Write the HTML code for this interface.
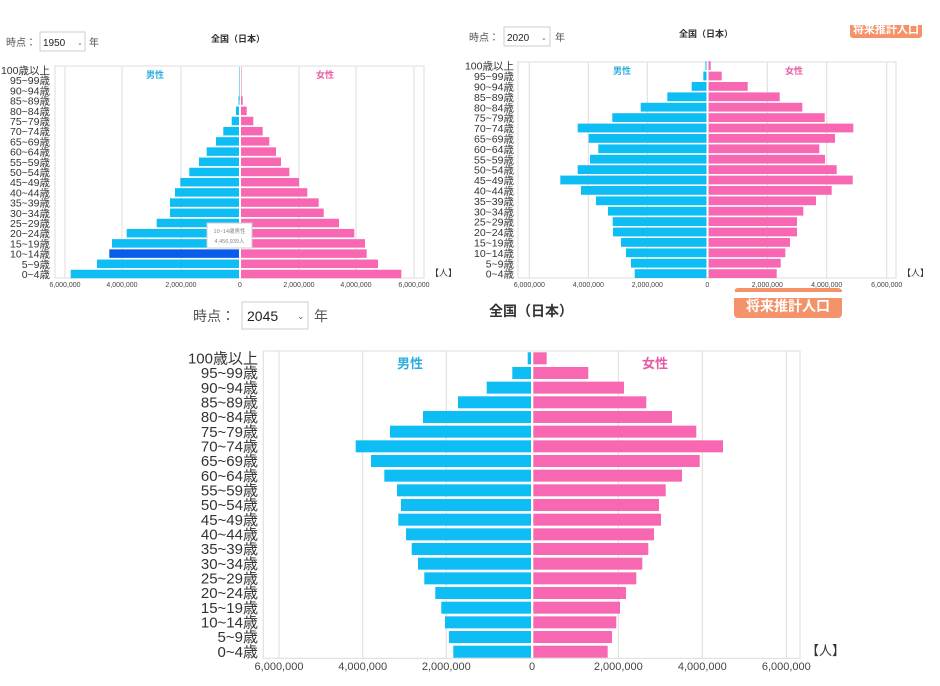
<!DOCTYPE html>
<html><head><meta charset="utf-8"><style>
body{margin:0;background:#fff;width:940px;height:686px;overflow:hidden}
svg{display:block;font-family:"Liberation Sans","Noto Sans CJK JP",sans-serif}
.m{fill:#0dbdf3}.f{fill:#f868b2}.g{stroke:#dcdcdc;stroke-width:1}
.fr{fill:none;stroke:#e2e2e2;stroke-width:1.2}
</style></head><body>
<svg width="940" height="686" viewBox="0 0 940 686">
<!-- Chart 1 -->
<text x="6" y="46" font-size="10" fill="#555">時点：</text>
<rect x="40" y="32" width="45" height="19" fill="#fff" stroke="#ccc"/>
<text x="43" y="46" font-size="10" fill="#222">1950</text><text x="77" y="45" font-size="7" fill="#666">⌄</text>
<text x="89" y="46" font-size="10" fill="#555">年</text>
<text x="238" y="42" font-size="9" font-weight="bold" fill="#333" text-anchor="middle">全国（日本）</text>
<rect x="55" y="66" width="369" height="212" class="fr"/>
<g class="g"><line x1="65" y1="67" x2="65" y2="278"/><line x1="122" y1="67" x2="122" y2="278"/><line x1="181" y1="67" x2="181" y2="278"/><line x1="299" y1="67" x2="299" y2="278"/><line x1="356" y1="67" x2="356" y2="278"/><line x1="414" y1="67" x2="414" y2="278"/></g>
<text x="155" y="78" font-size="9" font-weight="bold" fill="#2aaee0" text-anchor="middle">男性</text>
<text x="325" y="78" font-size="9" font-weight="bold" fill="#e85aa5" text-anchor="middle">女性</text>
<line x1="239.5" y1="67" x2="239.5" y2="100" stroke="#8fd8f5"/><line x1="241.5" y1="67" x2="241.5" y2="100" stroke="#f7b5d6"/>
<g class="m">
<rect x="238.5" y="96.35" width="1" height="8.5"/><rect x="236" y="106.55" width="3" height="8.5"/><rect x="231.7" y="116.75" width="7.3" height="8.5"/><rect x="223.3" y="126.95" width="15.7" height="8.5"/><rect x="216" y="137.15" width="23" height="8.5"/><rect x="206.7" y="147.35" width="32.3" height="8.5"/><rect x="199" y="157.55" width="40" height="8.5"/><rect x="189.3" y="167.75" width="49.7" height="8.5"/><rect x="180.3" y="177.95" width="58.7" height="8.5"/><rect x="175" y="188.15" width="64" height="8.5"/><rect x="170" y="198.35" width="69" height="8.5"/><rect x="170" y="208.55" width="69" height="8.5"/><rect x="156.7" y="218.75" width="82.3" height="8.5"/><rect x="126.7" y="228.95" width="112.3" height="8.5"/><rect x="112" y="239.15" width="127" height="8.5"/><rect x="109.3" y="249.35" width="129.7" height="8.5" style="fill:#0a5de8"/><rect x="97" y="259.55" width="142" height="8.5"/><rect x="70.7" y="269.75" width="168.3" height="8.5"/>
</g>
<g class="f">
<rect x="241" y="96.35" width="1.7" height="8.5"/><rect x="241" y="106.55" width="5.7" height="8.5"/><rect x="241" y="116.75" width="12.3" height="8.5"/><rect x="241" y="126.95" width="21.7" height="8.5"/><rect x="241" y="137.15" width="28.3" height="8.5"/><rect x="241" y="147.35" width="35" height="8.5"/><rect x="241" y="157.55" width="40" height="8.5"/><rect x="241" y="167.75" width="48.3" height="8.5"/><rect x="241" y="177.95" width="58" height="8.5"/><rect x="241" y="188.15" width="66.3" height="8.5"/><rect x="241" y="198.35" width="77.7" height="8.5"/><rect x="241" y="208.55" width="82.7" height="8.5"/><rect x="241" y="218.75" width="98" height="8.5"/><rect x="241" y="228.95" width="113.3" height="8.5"/><rect x="241" y="239.15" width="124" height="8.5"/><rect x="241" y="249.35" width="125.7" height="8.5"/><rect x="241" y="259.55" width="137" height="8.5"/><rect x="241" y="269.75" width="160.3" height="8.5"/>
</g>
<rect x="207" y="223" width="45" height="25" fill="#fff" stroke="#ccc"/>
<text x="229.5" y="233" font-size="5.5" fill="#888" text-anchor="middle">10~14歳男性</text>
<text x="229.5" y="243" font-size="5.5" fill="#888" text-anchor="middle">4,456,939人</text>
<g font-size="10.5" fill="#333" text-anchor="end" transform="translate(50,0)">
<text y="74">100歳以上</text><text y="84.2">95~99歳</text><text y="94.4">90~94歳</text><text y="104.6">85~89歳</text><text y="114.8">80~84歳</text><text y="125">75~79歳</text><text y="135.2">70~74歳</text><text y="145.4">65~69歳</text><text y="155.6">60~64歳</text><text y="165.8">55~59歳</text><text y="176">50~54歳</text><text y="186.2">45~49歳</text><text y="196.4">40~44歳</text><text y="206.6">35~39歳</text><text y="216.8">30~34歳</text><text y="227">25~29歳</text><text y="237.2">20~24歳</text><text y="247.4">15~19歳</text><text y="257.6">10~14歳</text><text y="267.8">5~9歳</text><text y="278">0~4歳</text>
</g>
<g font-size="7" fill="#444" text-anchor="middle">
<text x="65" y="287">6,000,000</text><text x="122" y="287">4,000,000</text><text x="181" y="287">2,000,000</text><text x="240" y="287">0</text><text x="299" y="287">2,000,000</text><text x="356" y="287">4,000,000</text><text x="414" y="287">6,000,000</text>
</g>
<text x="430" y="276" font-size="9" fill="#333">【人】</text>

<!-- Chart 2 -->
<text x="469" y="41" font-size="10" fill="#555">時点：</text>
<rect x="504" y="27" width="46" height="19" fill="#fff" stroke="#ccc"/>
<text x="507" y="41" font-size="10" fill="#222">2020</text><text x="541" y="40" font-size="7" fill="#666">⌄</text>
<text x="555" y="41" font-size="10" fill="#555">年</text>
<text x="706" y="37" font-size="9" font-weight="bold" fill="#333" text-anchor="middle">全国（日本）</text>
<rect x="850" y="14" width="72" height="24" rx="3" fill="#f4936a"/>
<text x="886" y="33" font-size="11" font-weight="bold" fill="#fff" text-anchor="middle">将来推計人口</text>
<rect x="845" y="0" width="80" height="25" fill="#fff"/>
<rect x="518" y="62" width="378" height="216" class="fr"/>
<g class="g"><line x1="529.3" y1="62" x2="529.3" y2="278"/><line x1="588.3" y1="62" x2="588.3" y2="278"/><line x1="647.3" y1="62" x2="647.3" y2="278"/><line x1="767.3" y1="62" x2="767.3" y2="278"/><line x1="826.7" y1="62" x2="826.7" y2="278"/><line x1="886.7" y1="62" x2="886.7" y2="278"/></g>
<text x="622" y="74" font-size="9" font-weight="bold" fill="#2aaee0" text-anchor="middle">男性</text>
<text x="794" y="74" font-size="9" font-weight="bold" fill="#e85aa5" text-anchor="middle">女性</text>
<g class="m">
<rect x="705.5" y="61.2" width="1" height="8.8"/><rect x="703.3" y="71.6" width="3.2" height="8.8"/><rect x="691.7" y="82" width="14.8" height="8.8"/><rect x="667.3" y="92.4" width="39.2" height="8.8"/><rect x="640.7" y="102.8" width="65.8" height="8.8"/><rect x="612.3" y="113.2" width="94.2" height="8.8"/><rect x="577.7" y="123.6" width="128.8" height="8.8"/><rect x="588.7" y="134" width="117.8" height="8.8"/><rect x="598.3" y="144.4" width="108.2" height="8.8"/><rect x="590" y="154.8" width="116.5" height="8.8"/><rect x="577.7" y="165.2" width="128.8" height="8.8"/><rect x="560.3" y="175.6" width="146.2" height="8.8"/><rect x="581" y="186" width="125.5" height="8.8"/><rect x="596" y="196.4" width="110.5" height="8.8"/><rect x="608" y="206.8" width="98.5" height="8.8"/><rect x="612.7" y="217.2" width="93.8" height="8.8"/><rect x="613" y="227.6" width="93.5" height="8.8"/><rect x="621" y="238" width="85.5" height="8.8"/><rect x="626" y="248.4" width="80.5" height="8.8"/><rect x="631" y="258.8" width="75.5" height="8.8"/><rect x="634.7" y="269.2" width="71.8" height="8.8"/>
</g>
<g class="f">
<rect x="708.5" y="61.2" width="2.2" height="8.8"/><rect x="708.5" y="71.6" width="13.2" height="8.8"/><rect x="708.5" y="82" width="39.2" height="8.8"/><rect x="708.5" y="92.4" width="71.2" height="8.8"/><rect x="708.5" y="102.8" width="93.8" height="8.8"/><rect x="708.5" y="113.2" width="116.2" height="8.8"/><rect x="708.5" y="123.6" width="144.8" height="8.8"/><rect x="708.5" y="134" width="126.5" height="8.8"/><rect x="708.5" y="144.4" width="110.8" height="8.8"/><rect x="708.5" y="154.8" width="116.5" height="8.8"/><rect x="708.5" y="165.2" width="128.2" height="8.8"/><rect x="708.5" y="175.6" width="144.2" height="8.8"/><rect x="708.5" y="186" width="123.2" height="8.8"/><rect x="708.5" y="196.4" width="107.5" height="8.8"/><rect x="708.5" y="206.8" width="94.8" height="8.8"/><rect x="708.5" y="217.2" width="88.5" height="8.8"/><rect x="708.5" y="227.6" width="88.5" height="8.8"/><rect x="708.5" y="238" width="81.5" height="8.8"/><rect x="708.5" y="248.4" width="76.8" height="8.8"/><rect x="708.5" y="258.8" width="72.2" height="8.8"/><rect x="708.5" y="269.2" width="68.2" height="8.8"/>
</g>
<g font-size="10.5" fill="#333" text-anchor="end" transform="translate(514,0)">
<text y="69.7">100歳以上</text><text y="80.1">95~99歳</text><text y="90.5">90~94歳</text><text y="100.9">85~89歳</text><text y="111.3">80~84歳</text><text y="121.7">75~79歳</text><text y="132.1">70~74歳</text><text y="142.5">65~69歳</text><text y="152.9">60~64歳</text><text y="163.3">55~59歳</text><text y="173.7">50~54歳</text><text y="184.1">45~49歳</text><text y="194.5">40~44歳</text><text y="204.9">35~39歳</text><text y="215.3">30~34歳</text><text y="225.7">25~29歳</text><text y="236.1">20~24歳</text><text y="246.5">15~19歳</text><text y="256.9">10~14歳</text><text y="267.3">5~9歳</text><text y="277.7">0~4歳</text>
</g>
<g font-size="7" fill="#444" text-anchor="middle">
<text x="529.3" y="287">6,000,000</text><text x="588.3" y="287">4,000,000</text><text x="647.3" y="287">2,000,000</text><text x="707.3" y="287">0</text><text x="767.3" y="287">2,000,000</text><text x="826.7" y="287">4,000,000</text><text x="886.7" y="287">6,000,000</text>
</g>
<text x="902" y="276" font-size="9" fill="#333">【人】</text>

<!-- Chart 3 -->
<text x="193" y="321" font-size="14" fill="#555">時点：</text>
<rect x="242" y="302" width="66" height="27" fill="#fff" stroke="#ccc"/>
<text x="247" y="321" font-size="14" fill="#222">2045</text><text x="297" y="319" font-size="9" fill="#666">⌄</text>
<text x="314" y="321" font-size="14" fill="#555">年</text>
<text x="531" y="316" font-size="14" font-weight="bold" fill="#333" text-anchor="middle">全国（日本）</text>
<rect x="734" y="288" width="108" height="30" rx="4" fill="#f4936a"/>
<text x="788" y="311" font-size="14" font-weight="bold" fill="#fff" text-anchor="middle">将来推計人口</text>
<rect x="730" y="290" width="120" height="8" fill="#fff"/>
<rect x="735" y="290" width="107" height="2" fill="#f4936a"/>
<rect x="263.3" y="351" width="536.7" height="307.3" class="fr"/>
<g class="g"><line x1="279" y1="351" x2="279" y2="658"/><line x1="362.7" y1="351" x2="362.7" y2="658"/><line x1="446.3" y1="351" x2="446.3" y2="658"/><line x1="618.3" y1="351" x2="618.3" y2="658"/><line x1="702.3" y1="351" x2="702.3" y2="658"/><line x1="786.3" y1="351" x2="786.3" y2="658"/></g>
<text x="410" y="368" font-size="13" font-weight="bold" fill="#2aaee0" text-anchor="middle">男性</text>
<text x="655" y="368" font-size="13" font-weight="bold" fill="#e85aa5" text-anchor="middle">女性</text>
<g class="m">
<rect x="527.7" y="352.3" width="3.3" height="12"/><rect x="512.3" y="366.97" width="18.7" height="12"/><rect x="486.7" y="381.64" width="44.3" height="12"/><rect x="458" y="396.31" width="73" height="12"/><rect x="423" y="410.98" width="108" height="12"/><rect x="390" y="425.65" width="141" height="12"/><rect x="355.7" y="440.32" width="175.3" height="12"/><rect x="371" y="454.99" width="160" height="12"/><rect x="384.3" y="469.66" width="146.7" height="12"/><rect x="397" y="484.33" width="134" height="12"/><rect x="401" y="499" width="130" height="12"/><rect x="398.3" y="513.67" width="132.7" height="12"/><rect x="406" y="528.34" width="125" height="12"/><rect x="411.7" y="543.01" width="119.3" height="12"/><rect x="418" y="557.68" width="113" height="12"/><rect x="424.3" y="572.35" width="106.7" height="12"/><rect x="435.3" y="587.02" width="95.7" height="12"/><rect x="441.3" y="601.69" width="89.7" height="12"/><rect x="445" y="616.36" width="86" height="12"/><rect x="449" y="631.03" width="82" height="12"/><rect x="453.3" y="645.7" width="77.7" height="12"/>
</g>
<g class="f">
<rect x="533.3" y="352.3" width="13.4" height="12"/><rect x="533.3" y="366.97" width="55" height="12"/><rect x="533.3" y="381.64" width="90.7" height="12"/><rect x="533.3" y="396.31" width="113" height="12"/><rect x="533.3" y="410.98" width="138.7" height="12"/><rect x="533.3" y="425.65" width="163" height="12"/><rect x="533.3" y="440.32" width="189.7" height="12"/><rect x="533.3" y="454.99" width="166.4" height="12"/><rect x="533.3" y="469.66" width="148.7" height="12"/><rect x="533.3" y="484.33" width="132.4" height="12"/><rect x="533.3" y="499" width="125.7" height="12"/><rect x="533.3" y="513.67" width="127.7" height="12"/><rect x="533.3" y="528.34" width="120.7" height="12"/><rect x="533.3" y="543.01" width="115" height="12"/><rect x="533.3" y="557.68" width="109" height="12"/><rect x="533.3" y="572.35" width="103" height="12"/><rect x="533.3" y="587.02" width="92.7" height="12"/><rect x="533.3" y="601.69" width="86.7" height="12"/><rect x="533.3" y="616.36" width="83" height="12"/><rect x="533.3" y="631.03" width="78.7" height="12"/><rect x="533.3" y="645.7" width="74.4" height="12"/>
</g>
<g font-size="15" fill="#333" text-anchor="end" transform="translate(258,0)">
<text y="363.5">100歳以上</text><text y="378.2">95~99歳</text><text y="392.8">90~94歳</text><text y="407.5">85~89歳</text><text y="422.2">80~84歳</text><text y="436.8">75~79歳</text><text y="451.5">70~74歳</text><text y="466.2">65~69歳</text><text y="480.9">60~64歳</text><text y="495.5">55~59歳</text><text y="510.2">50~54歳</text><text y="524.9">45~49歳</text><text y="539.5">40~44歳</text><text y="554.2">35~39歳</text><text y="568.9">30~34歳</text><text y="583.5">25~29歳</text><text y="598.2">20~24歳</text><text y="612.9">15~19歳</text><text y="627.6">10~14歳</text><text y="642.2">5~9歳</text><text y="656.9">0~4歳</text>
</g>
<g font-size="11" fill="#444" text-anchor="middle">
<text x="279" y="670">6,000,000</text><text x="362.7" y="670">4,000,000</text><text x="446.3" y="670">2,000,000</text><text x="532" y="670">0</text><text x="618.3" y="670">2,000,000</text><text x="702.3" y="670">4,000,000</text><text x="786.3" y="670">6,000,000</text>
</g>
<text x="806" y="655" font-size="13" fill="#333">【人】</text>
</svg>
</body></html>
